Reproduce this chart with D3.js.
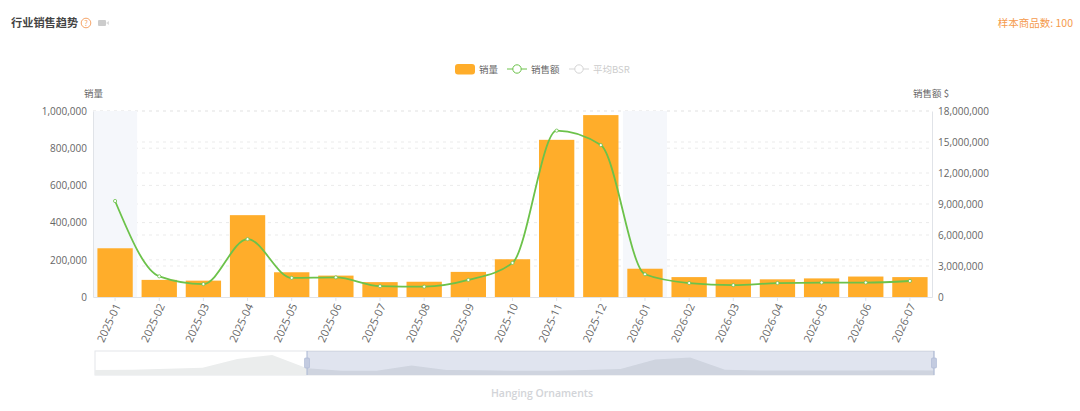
<!DOCTYPE html>
<html>
<head>
<meta charset="utf-8">
<script src="https://cdn.jsdelivr.net/npm/d3@7"></script>
<style>
  html, body { margin: 0; background: #fff; }
  svg { display: block; font-family: "Noto Sans CJK SC", "Open Sans", sans-serif; }
</style>
</head>
<body>
<div id="chart"></div>
<script>
const months = ["2025-01","2025-02","2025-03","2025-04","2025-05","2025-06","2025-07","2025-08","2025-09","2025-10","2025-11","2025-12","2026-01","2026-02","2026-03","2026-04","2026-05","2026-06","2026-07"];
const sales = [262000,92000,88000,440000,133000,115000,80000,82000,135000,203000,845000,978000,152000,107000,95000,95000,100000,110000,107000];
const revenue = [9290000,2000000,1250000,5600000,1850000,1900000,1050000,1000000,1650000,3300000,16100000,14700000,2200000,1350000,1150000,1350000,1400000,1400000,1550000];
const shadedMonths = ["2025-01","2026-01"];
// the slider also covers the months before the visible window
const earlierMonths = ["2024-07","2024-08","2024-09","2024-10","2024-11","2024-12"];
const earlierSales = [130000,160000,220000,290000,880000,1150000];
const salesTicks = [0,200000,400000,600000,800000,1000000];
const revenueTicks = [0,3000000,6000000,9000000,12000000,15000000,18000000];

const width = 1080;
const height = 411;
const marginLeft = 93;
const marginRight = 148;
const plotTop = 111;
const plotBottom = 297;

const orange = "#ffad2a";
const green = "#6cc24a";
const axisGrey = "#e0e3e8";
const textGrey = "#666";

const svg = d3.select("#chart").append("svg")
  .attr("width", width)
  .attr("height", height)
  .attr("viewBox", [0, 0, width, height]);

const x = d3.scaleBand().domain(months).range([marginLeft, width - marginRight]).paddingInner(0.2).paddingOuter(0.1);
const ySales = d3.scaleLinear().domain([0, 1000000]).range([plotBottom, plotTop]);
const yRevenue = d3.scaleLinear().domain([0, 18000000]).range([plotBottom, plotTop]);
const cx = (m) => x(m) + x.bandwidth() / 2;

// header
svg.append("text").attr("x", 11).attr("y", 27)
  .attr("font-size", 11.2).attr("font-weight", 700).attr("fill", "#444")
  .text("行业销售趋势");
svg.append("circle").attr("cx", 86).attr("cy", 23).attr("r", 4.8)
  .attr("fill", "none").attr("stroke", "#f5a468").attr("stroke-width", 1);
svg.append("text").attr("x", 86).attr("y", 26).attr("text-anchor", "middle")
  .attr("font-size", 7.5).attr("fill", "#f5a468").text("?");
svg.append("rect").attr("x", 98).attr("y", 20).attr("width", 8).attr("height", 6).attr("rx", 1).attr("fill", "#ccc");
svg.append("path").attr("d", "M106 23l3-2v4z").attr("fill", "#ddd");
svg.append("text").attr("x", 1073).attr("y", 27).attr("text-anchor", "end")
  .attr("font-size", 10.5).attr("fill", "#f59a4c").text("样本商品数: 100");

// legend
const legend = svg.append("g").attr("font-size", 9.5);
legend.append("rect").attr("x", 455).attr("y", 64).attr("width", 20).attr("height", 10.5).attr("rx", 3).attr("fill", orange);
legend.append("text").attr("x", 479).attr("y", 72.5).attr("fill", textGrey).text("销量");
[[507, green, "销售额", "#666"], [569, "#d5d5d5", "平均BSR", "#ccc"]].forEach(([lx, color, label, fill]) => {
  legend.append("line").attr("x1", lx).attr("x2", lx + 20).attr("y1", 69).attr("y2", 69).attr("stroke", color);
  legend.append("circle").attr("cx", lx + 10).attr("cy", 69).attr("r", 4.2)
    .attr("fill", "#fff").attr("stroke", color);
  legend.append("text").attr("x", lx + 24).attr("y", 72.5).attr("fill", fill).text(label);
});

// axis names
svg.append("text").attr("x", 84).attr("y", 97).attr("font-size", 9.5).attr("fill", textGrey).text("销量");
svg.append("text").attr("x", 913).attr("y", 97).attr("font-size", 9.5).attr("fill", textGrey).text("销售额 $");

// grid lines from both value axes
const grid = svg.append("g").attr("stroke", "#ebebeb").attr("stroke-dasharray", "3 4");
[...salesTicks.map(ySales), ...revenueTicks.map(yRevenue)].forEach((py) => {
  if (py === plotBottom) return;
  grid.append("line").attr("x1", marginLeft).attr("x2", width - marginRight).attr("y1", py).attr("y2", py);
});

// shaded months
svg.append("g").selectAll("rect").data(shadedMonths).join("rect")
  .attr("x", (m) => x(m) - x.step() * 0.1)
  .attr("width", x.step())
  .attr("y", plotTop)
  .attr("height", plotBottom - plotTop)
  .attr("fill", "#f5f7fb");

// axes
function styleAxis(g) {
  g.select(".domain").attr("stroke", axisGrey);
  g.selectAll(".tick line").attr("stroke", axisGrey);
  g.selectAll("text").attr("fill", textGrey).attr("font-size", 10)
    .attr("font-family", "'Open Sans', sans-serif");
}
svg.append("g").attr("transform", `translate(${marginLeft},0)`)
  .call(d3.axisLeft(ySales).tickValues(salesTicks).tickFormat(d3.format(",")).tickSize(0).tickPadding(6))
  .call(styleAxis);
svg.append("g").attr("transform", `translate(${width - marginRight},0)`)
  .call(d3.axisRight(yRevenue).tickValues(revenueTicks).tickFormat(d3.format(",")).tickSize(0).tickPadding(6))
  .call(styleAxis);
svg.append("g").attr("transform", `translate(0,${plotBottom})`)
  .call(d3.axisBottom(x).tickSize(4).tickSizeOuter(0))
  .call(styleAxis)
  .call((g) => g.selectAll("text")
    .attr("font-size", 11)
    .attr("text-anchor", "end")
    .attr("dx", "-0.5em")
    .attr("dy", "0.2em")
    .attr("transform", "rotate(-65)"));

// bars
svg.append("g").selectAll("rect").data(months).join("rect")
  .attr("x", (m) => x(m))
  .attr("width", x.bandwidth())
  .attr("y", (m, i) => ySales(sales[i]))
  .attr("height", (m, i) => plotBottom - ySales(sales[i]))
  .attr("fill", orange);

// revenue line
const line = d3.line()
  .x((m) => cx(m))
  .y((m, i) => yRevenue(revenue[i]))
  .curve(d3.curveMonotoneX);
svg.append("path").attr("d", line(months))
  .attr("fill", "none").attr("stroke", green).attr("stroke-width", 1.8);
svg.append("g").selectAll("circle").data(months).join("circle")
  .attr("cx", (m) => cx(m))
  .attr("cy", (m, i) => yRevenue(revenue[i]))
  .attr("r", 1.6)
  .attr("fill", "#fff")
  .attr("stroke", green)
  .attr("stroke-width", 0.8);

// zoom slider
const sliderMonths = [...earlierMonths, ...months];
const sliderSales = [...earlierSales, ...sales];
const sliderLeft = 95;
const sliderRight = 934;
const sliderTop = 351;
const sliderBottom = 375;
const sx = d3.scalePoint().domain(sliderMonths).range([sliderLeft + 3, sliderRight]);
const sy = d3.scaleLinear().domain([0, 1150000]).range([372, 355]);

svg.append("rect").attr("x", sliderLeft).attr("y", sliderTop)
  .attr("width", sliderRight - sliderLeft).attr("height", sliderBottom - sliderTop)
  .attr("fill", "#fff").attr("stroke", "#e4e6ea");
const shadow = d3.area()
  .x((m, i) => (i === 0 ? sliderLeft : sx(m)))
  .y0(sliderBottom)
  .y1((m, i) => sy(sliderSales[i]));
svg.append("path").attr("d", shadow(sliderMonths)).attr("fill", "#ebeded");

const startX = sx(months[0]);
svg.append("rect").attr("x", startX).attr("y", sliderTop)
  .attr("width", sliderRight - startX).attr("height", sliderBottom - sliderTop)
  .attr("fill", "#2f4a96").attr("fill-opacity", 0.15);
[startX, sliderRight].forEach((hx) => {
  svg.append("line").attr("x1", hx).attr("x2", hx).attr("y1", sliderTop).attr("y2", sliderBottom)
    .attr("stroke", "#a9b6d3");
  svg.append("rect").attr("x", hx - 2.5).attr("y", 358).attr("width", 5).attr("height", 10).attr("rx", 1)
    .attr("fill", "#c3cbe0").attr("stroke", "#a9b6d3").attr("stroke-width", 0.6);
});
svg.append("text").attr("x", 542).attr("y", 397).attr("text-anchor", "middle")
  .attr("font-family", "'Open Sans', sans-serif").attr("font-size", 10.5).attr("font-weight", 600)
  .attr("fill", "#d2d4d8").text("Hanging Ornaments");
</script>
</body>
</html>
